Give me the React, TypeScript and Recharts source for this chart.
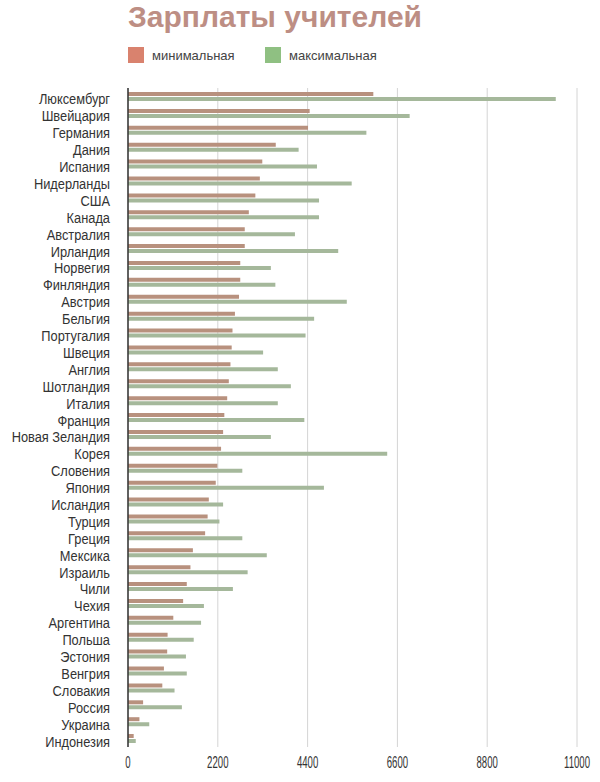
import React from 'react';
import { BarChart, Bar, XAxis, YAxis, CartesianGrid } from 'recharts';

const countries = [
  'Люксембург', 'Швейцария', 'Германия', 'Дания', 'Испания', 'Нидерланды', 'США', 'Канада',
  'Австралия', 'Ирландия', 'Норвегия', 'Финляндия', 'Австрия', 'Бельгия', 'Португалия', 'Швеция',
  'Англия', 'Шотландия', 'Италия', 'Франция', 'Новая Зеландия', 'Корея', 'Словения', 'Япония',
  'Исландия', 'Турция', 'Греция', 'Мексика', 'Израиль', 'Чили', 'Чехия', 'Аргентина',
  'Польша', 'Эстония', 'Венгрия', 'Словакия', 'Россия', 'Украина', 'Индонезия',
];

const minSalary = [
  6010, 4450, 4410, 3620, 3290, 3230, 3120, 2960, 2860, 2860, 2750, 2750, 2720, 2620, 2560, 2540,
  2510, 2470, 2430, 2360, 2330, 2280, 2190, 2150, 1980, 1950, 1890, 1590, 1530, 1440, 1350, 1110,
  970, 960, 880, 840, 370, 280, 140,
];

const maxSalary = [
  10480, 6900, 5840, 4180, 4630, 5480, 4680, 4680, 4090, 5150, 3500, 3610, 5360, 4560, 4350, 3310,
  3670, 3990, 3670, 4320, 3500, 6350, 2800, 4800, 2330, 2240, 2800, 3400, 2930, 2570, 1860, 1790,
  1610, 1420, 1440, 1140, 1320, 520, 190,
];

const xTicks = [0, 2200, 4400, 6600, 8800, 11000];

const data = countries.map((name, i) => ({ name, min: minSalary[i], max: maxSalary[i] }));

const sans = 'Liberation Sans, Arial, sans-serif';
const minColor = '#b8917e';
const maxColor = '#a5b89b';

const XTick = ({ x, y, payload }: any) => (
  <g transform={`translate(${x},${y + 21})`}>
    <text transform="scale(0.6,1)" textAnchor="middle" fontFamily={sans} fontSize={16} fill="#333">
      {payload.value}
    </text>
  </g>
);

const YTick = ({ x, y, payload }: any) => (
  <g transform={`translate(${x - 10},${y + 8})`}>
    <text transform="scale(0.95,1.1)" textAnchor="end" fontFamily={sans} fontSize={13.5} fill="#333">
      {payload.value}
    </text>
  </g>
);

const LegendItem = ({ color, label, left }: { color: string; label: string; left: number }) => (
  <div style={{ position: 'absolute', left, top: 47, display: 'flex', alignItems: 'center' }}>
    <div style={{ width: 16, height: 16, background: color }} />
    <span style={{ marginLeft: 8, fontFamily: sans, fontSize: 13, color: '#444' }}>{label}</span>
  </div>
);

export default function App() {
  return (
    <div style={{ position: 'absolute', left: 0, top: 0, width: 600, height: 782, background: '#fff' }}>
      <div
        style={{
          position: 'absolute',
          left: 128,
          top: 2,
          fontFamily: sans,
          fontWeight: 'bold',
          fontSize: 30,
          lineHeight: '30px',
          color: '#bd8e84',
          whiteSpace: 'nowrap',
        }}
      >
        Зарплаты учителей
      </div>
      <LegendItem color="#d9826e" label="минимальная" left={128} />
      <LegendItem color="#8fc082" label="максимальная" left={265} />
      <BarChart
        width={600}
        height={782}
        data={data}
        layout="vertical"
        barSize={4}
        barGap={1}
        margin={{ top: 88, right: 23, bottom: 5, left: 0 }}
      >
        <CartesianGrid horizontal={false} stroke="#d4d4d4" />
        <XAxis
          type="number"
          domain={[0, 11000]}
          ticks={xTicks}
          axisLine={false}
          tickLine={false}
          tickSize={0}
          tickMargin={0}
          height={30}
          tick={<XTick />}
          interval={0}
        />
        <YAxis
          type="category"
          dataKey="name"
          width={128}
          axisLine={{ stroke: '#333', strokeWidth: 1.5 }}
          tickLine={false}
          tick={<YTick />}
          interval={0}
        />
        <Bar dataKey="min" fill={minColor} isAnimationActive={false} />
        <Bar dataKey="max" fill={maxColor} isAnimationActive={false} />
      </BarChart>
    </div>
  );
}
